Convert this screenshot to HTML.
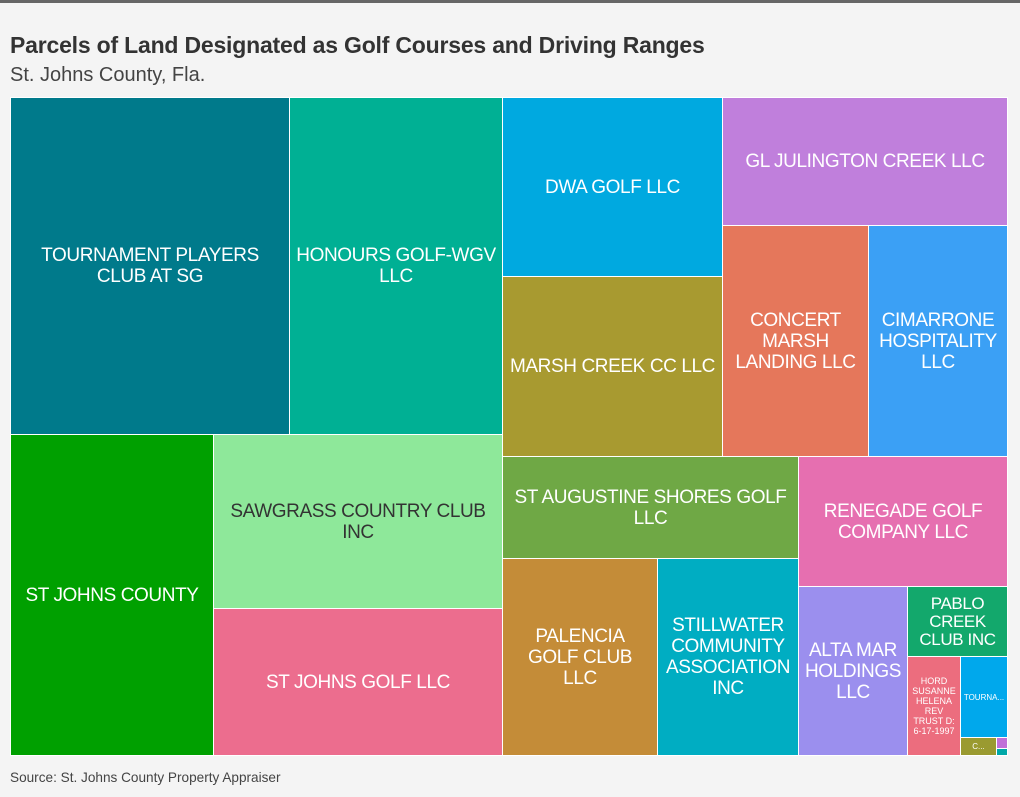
<!DOCTYPE html>
<html><head><meta charset="utf-8"><style>
body{margin:0;width:1020px;height:797px;background:#f4f4f4;font-family:"Liberation Sans",sans-serif;position:relative;overflow:hidden}
.top{position:absolute;left:0;top:0;width:1020px;height:3px;background:#666}
h1{position:absolute;left:10px;top:32px;margin:0;font-size:23px;font-weight:bold;color:#333;letter-spacing:-0.2px}
.sub{position:absolute;left:10px;top:64px;font-size:20px;color:#444}
.src{position:absolute;left:10px;top:770px;font-size:13.6px;color:#444}
.c{position:absolute;box-sizing:border-box;border:0.5px solid #fff;display:flex;align-items:center;justify-content:center;text-align:center;color:#fff;font-size:19px;line-height:21px;letter-spacing:-0.4px;overflow:hidden}
</style></head><body>
<div class="top"></div>
<h1>Parcels of Land Designated as Golf Courses and Driving Ranges</h1>
<div class="sub">St. Johns County, Fla.</div>
<div class="c" style="left:10px;top:97px;width:280px;height:338px;background:#007a8b">TOURNAMENT PLAYERS<br>CLUB AT SG</div>
<div class="c" style="left:289px;top:97px;width:214px;height:338px;background:#00b094">HONOURS GOLF-WGV<br>LLC</div>
<div class="c" style="left:502px;top:97px;width:221px;height:180px;background:#00a9e0">DWA GOLF LLC</div>
<div class="c" style="left:722px;top:97px;width:286px;height:129px;background:#c07fdc">GL JULINGTON CREEK LLC</div>
<div class="c" style="left:502px;top:276px;width:221px;height:181px;background:#a89a30">MARSH CREEK CC LLC</div>
<div class="c" style="left:722px;top:225px;width:147px;height:232px;background:#e5775b">CONCERT<br>MARSH<br>LANDING LLC</div>
<div class="c" style="left:868px;top:225px;width:140px;height:232px;background:#3ba0f5">CIMARRONE<br>HOSPITALITY<br>LLC</div>
<div class="c" style="left:10px;top:434px;width:204px;height:322px;background:#00a000">ST JOHNS COUNTY</div>
<div class="c" style="left:213px;top:434px;width:290px;height:175px;background:#8ee89a;color:#333">SAWGRASS COUNTRY CLUB<br>INC</div>
<div class="c" style="left:213px;top:608px;width:290px;height:148px;background:#ec6d8e">ST JOHNS GOLF LLC</div>
<div class="c" style="left:502px;top:456px;width:297px;height:103px;background:#6fa845">ST AUGUSTINE SHORES GOLF<br>LLC</div>
<div class="c" style="left:798px;top:456px;width:210px;height:131px;background:#e66fb0">RENEGADE GOLF<br>COMPANY LLC</div>
<div class="c" style="left:502px;top:558px;width:156px;height:198px;background:#c48c38">PALENCIA<br>GOLF CLUB<br>LLC</div>
<div class="c" style="left:657px;top:558px;width:142px;height:198px;background:#00adc2">STILLWATER<br>COMMUNITY<br>ASSOCIATION<br>INC</div>
<div class="c" style="left:798px;top:586px;width:110px;height:170px;background:#9b8fee">ALTA MAR<br>HOLDINGS<br>LLC</div>
<div class="c" style="left:907px;top:586px;width:101px;height:71px;background:#13a86c;font-size:17px;line-height:18px">PABLO<br>CREEK<br>CLUB INC</div>
<div class="c" style="left:907px;top:656px;width:54px;height:100px;background:#ec6d7e;font-size:9px;line-height:10px;letter-spacing:0">HORD<br>SUSANNE<br>HELENA<br>REV<br>TRUST D:<br>6-17-1997</div>
<div class="c" style="left:960px;top:656px;width:48px;height:82px;background:#00a8ec;font-size:8px;letter-spacing:0">TOURNA...</div>
<div class="c" style="left:960px;top:737px;width:37px;height:19px;background:#9a9a30;font-size:8px;letter-spacing:0">C...</div>
<div class="c" style="left:996px;top:737px;width:12px;height:12px;background:#c070d8"></div>
<div class="c" style="left:996px;top:748px;width:12px;height:8px;background:#00a8a8"></div>
<div class="src">Source: St. Johns County Property Appraiser</div>
</body></html>
